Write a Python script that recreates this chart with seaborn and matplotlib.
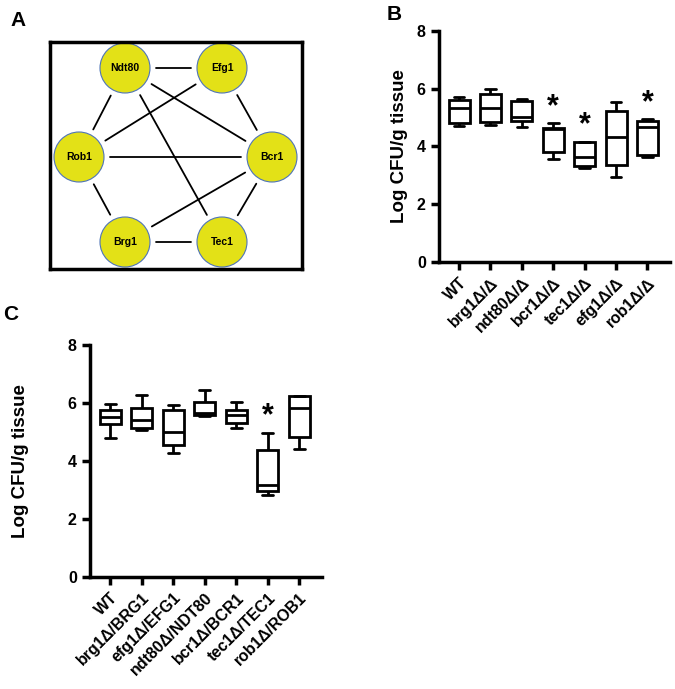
import numpy as np
import pandas as pd
import matplotlib
matplotlib.use("Agg")
import matplotlib.pyplot as plt
from matplotlib.patches import Circle
import seaborn as sns

# panel B: deletion mutants (min, q1, median, q3, max)
strains_b = ['WT', 'brg1Δ/Δ', 'ndt80Δ/Δ', 'bcr1Δ/Δ', 'tec1Δ/Δ', 'efg1Δ/Δ', 'rob1Δ/Δ']
wt_b = [4.72, 4.82, 5.35, 5.62, 5.72]
brg1_b = [4.76, 4.86, 5.35, 5.81, 6.0]
ndt80_b = [4.68, 4.88, 5.03, 5.57, 5.66]
bcr1_b = [3.56, 3.82, 4.6, 4.65, 4.8]
tec1_b = [3.27, 3.34, 3.65, 4.17, 4.17]
efg1_b = [2.96, 3.36, 4.32, 5.22, 5.55]
rob1_b = [3.65, 3.71, 4.68, 4.89, 4.95]
signif_b = ['bcr1Δ/Δ', 'tec1Δ/Δ', 'rob1Δ/Δ']

# panel C: complemented strains
strains_c = ['WT', 'brg1Δ/BRG1', 'efg1Δ/EFG1', 'ndt80Δ/NDT80', 'bcr1Δ/BCR1', 'tec1Δ/TEC1', 'rob1Δ/ROB1']
wt_c = [4.8, 5.29, 5.52, 5.77, 5.98]
brg1_c = [5.06, 5.15, 5.43, 5.84, 6.28]
efg1_c = [4.28, 4.56, 5.0, 5.75, 5.93]
ndt80_c = [5.54, 5.57, 5.66, 6.03, 6.44]
bcr1_c = [5.15, 5.31, 5.57, 5.77, 6.02]
tec1_c = [2.84, 2.95, 3.16, 4.39, 4.98]
rob1_c = [4.43, 4.83, 5.84, 6.23, 6.25]
signif_c = ['tec1Δ/TEC1']

# panel A: regulator network
nodes = ['Ndt80', 'Efg1', 'Rob1', 'Bcr1', 'Brg1', 'Tec1']
edges = [('Ndt80', 'Efg1'), ('Ndt80', 'Rob1'), ('Ndt80', 'Bcr1'), ('Ndt80', 'Tec1'),
         ('Efg1', 'Rob1'), ('Efg1', 'Bcr1'), ('Rob1', 'Bcr1'), ('Rob1', 'Brg1'),
         ('Bcr1', 'Brg1'), ('Bcr1', 'Tec1'), ('Brg1', 'Tec1')]
# hexagon layout in pixels inside the frame
layout = {'Ndt80': (75, 26), 'Efg1': (172, 26), 'Rob1': (29, 115),
          'Bcr1': (222, 115), 'Brg1': (75, 200), 'Tec1': (172, 200)}

sns.set_style("ticks")
plt.rcParams['font.family'] = ['Liberation Sans', 'DejaVu Sans']
plt.rcParams['font.weight'] = 'bold'
for k in ['text.color', 'axes.labelcolor', 'xtick.color', 'ytick.color', 'axes.edgecolor']:
    plt.rcParams[k] = 'black'

fig = plt.figure(figsize=(6.75, 6.89), dpi=100)
W, H = 675, 689


def px_axes(left, top, right, bottom):
    return fig.add_axes([left / W, (H - bottom) / H, (right - left) / W, (bottom - top) / H])


# ---- panel A
axa = px_axes(50, 42, 302, 269)
axa.set_xlim(0, 252)
axa.set_ylim(227, 0)
axa.set_xticks([])
axa.set_yticks([])
for s in axa.spines.values():
    s.set_visible(True)
    s.set_linewidth(2.5)
    s.set_color('black')
r = 25
gap = 31
for a, b in edges:
    x0, y0 = layout[a]
    x1, y1 = layout[b]
    d = np.hypot(x1 - x0, y1 - y0)
    ux, uy = (x1 - x0) / d, (y1 - y0) / d
    axa.plot([x0 + ux * gap, x1 - ux * gap], [y0 + uy * gap, y1 - uy * gap],
             color='black', lw=1.3, zorder=1)
for n in nodes:
    x, y = layout[n]
    axa.add_patch(Circle((x, y), r, facecolor='#e3e117', edgecolor='#4f74b8', lw=0.8, zorder=2))
    axa.text(x, y, n, ha='center', va='center', fontsize=7.5, fontweight='bold', zorder=3)


def box_panel(ax, strains, groups, signif, star_off, lpad):
    df = pd.DataFrame({'strain': np.repeat(strains, 5),
                       'cfu': np.concatenate(groups)})
    sns.boxplot(data=df, x='strain', y='cfu', order=strains, whis=np.inf,
                color='white', linecolor='black', linewidth=2, width=0.67, ax=ax)
    # narrower caps like the original
    for line in ax.lines:
        xd = line.get_xdata()
        yd = line.get_ydata()
        if len(xd) == 2 and yd[0] == yd[1] and abs(xd[1] - xd[0]) > 0.2:
            cx = (xd[0] + xd[1]) / 2
            g = groups[int(round(cx))]
            if np.isclose(yd[0], g[0]) or np.isclose(yd[0], g[-1]):
                if not (np.isclose(yd[0], g[2])):
                    line.set_xdata([cx - 0.17, cx + 0.17])
    for s in signif:
        i = strains.index(s)
        ax.text(i, max(groups[i]) + star_off, '*', ha='center', va='center',
                fontsize=22, fontweight='bold')
    ax.set_ylim(0, 8)
    ax.set_yticks([0, 2, 4, 6, 8])
    ax.set_xlim(-0.64, 6.72)
    ax.set_xlabel('')
    ax.set_ylabel('Log CFU/g tissue', fontsize=13.5, fontweight='bold', labelpad=lpad)
    sns.despine(ax=ax)
    for s in ['left', 'bottom']:
        ax.spines[s].set_linewidth(2.5)
    ax.tick_params(width=2.5, length=6, labelsize=11.5)
    for t in ax.get_yticklabels():
        t.set_fontweight('bold')
    for t in ax.get_xticklabels():
        t.set_rotation(45)
        t.set_ha('right')
        t.set_rotation_mode('anchor')
        t.set_fontweight('bold')
        t.set_fontsize(11.5)


axb = px_axes(439, 31, 670, 262)
box_panel(axb, strains_b, [wt_b, brg1_b, ndt80_b, bcr1_b, tec1_b, efg1_b, rob1_b], signif_b, 0.55, 6)

axc = px_axes(90, 345, 322, 577)
box_panel(axc, strains_c, [wt_c, brg1_c, efg1_c, ndt80_c, bcr1_c, tec1_c, rob1_c], signif_c, 0.55, 28)

fig.text(10 / W, 1 - 20 / H, 'A', fontsize=15, fontweight='bold', va='center')
fig.text(387 / W, 1 - 14 / H, 'B', fontsize=15, fontweight='bold', va='center')
fig.text(3 / W, 1 - 314 / H, 'C', fontsize=15, fontweight='bold', va='center')

fig.savefig('out.png', dpi=100)
